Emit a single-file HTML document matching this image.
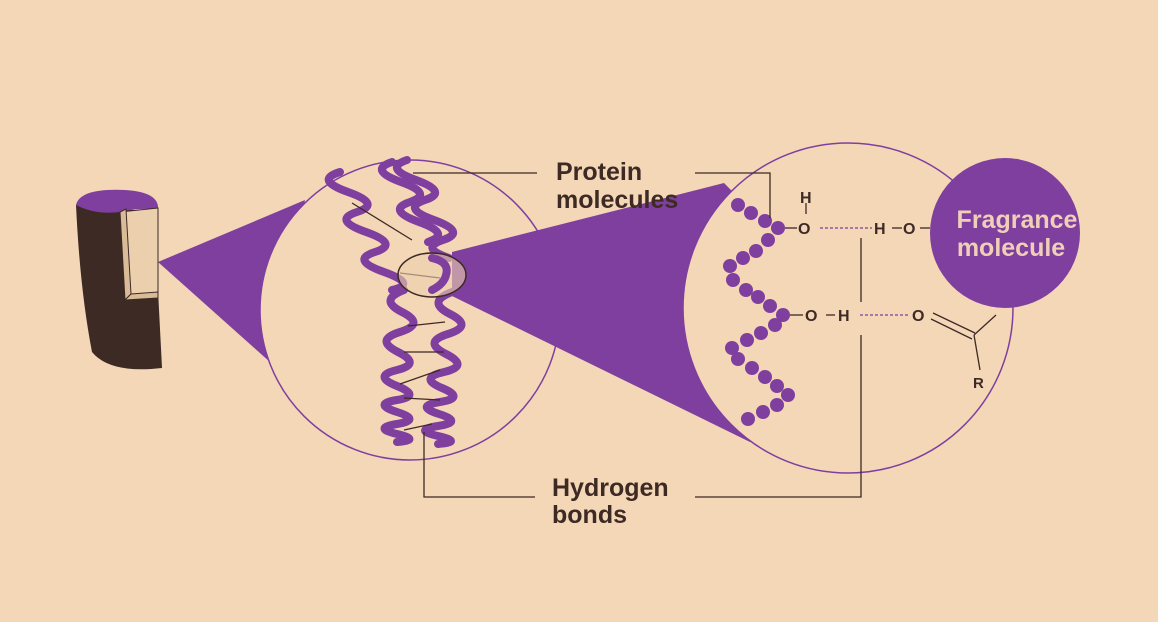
<!DOCTYPE html>
<html><head><meta charset="utf-8"><style>
html,body{margin:0;padding:0;background:#f3d7b7;}
svg{display:block}
text{font-family:"Liberation Sans",sans-serif;font-weight:bold;fill:#3d2a24}
</style></head><body>
<svg width="1158" height="622" viewBox="0 0 1158 622" xmlns="http://www.w3.org/2000/svg">
<rect width="1158" height="622" fill="#f3d7b7"/>
<!-- left cone -->
<polygon points="158,262 305,200 270,362" fill="#7f3f9f"/>
<!-- circle 1 -->
<circle cx="410" cy="310" r="150" fill="#f3d7b7" stroke="#7f3f9f" stroke-width="1.5"/>
<!-- right cone -->
<polygon points="452,252 724,183 848,308 750,442 452,296" fill="#7f3f9f"/>
<!-- circle 2 -->
<circle cx="848" cy="308" r="165" fill="#f3d7b7" stroke="#7f3f9f" stroke-width="1.5"/>
<!-- hair -->
<path d="M76,205 Q80,290 92,352 Q110,374 162,368 L158,290 L158,212 Z" fill="#3d2a24"/>
<path d="M76,205 Q80,188 125,190 Q160,192 158,210 Q140,207 120,212 Q95,215 76,205 Z" fill="#7f3f9f"/>
<polygon points="120,212 158,208 158,292 125,300" fill="#ecd0ae" stroke="#3d2a24" stroke-width="1"/>
<polygon points="120,212 126,209 131,294 125,300" fill="#d9bb98" stroke="#3d2a24" stroke-width="1"/>
<polygon points="125,300 131,294 158,292 158,298" fill="#d9bb98" stroke="#3d2a24" stroke-width="1"/>
<!-- strands -->
<g fill="none" stroke="#7f3f9f" stroke-width="8" stroke-linecap="round">
<path d="M340,172 q-26,8 8,20 t9,20 t9,20 t9,20 t9,20 t8,18"/>
<path d="M392,162 q-24,8 9,20 t9,20 t9,20 t9,20"/>
<path d="M407,160 q-24,8 9,20 t9,20 t9,20 t9,20 t6,18"/>
<path d="M404,290 q-26,10 -2,22 t-2,20 t-2,20 t-1,18 t0,16 t0,14 t0,12 t0,12 t0,10 t0,8"/>
<path d="M452,292 q-26,10 -2,22 t-2,20 t-2,20 t-2,18 t-2,16 t-2,14 t-1,12 t-1,12 t0,10 t0,8"/>
</g>
<g stroke="#3d2a24" stroke-width="1.3" fill="none">
<line x1="352" y1="203" x2="412" y2="240"/>
<line x1="400" y1="273" x2="440" y2="278"/>
<line x1="408" y1="326" x2="445" y2="322"/>
<line x1="404" y1="352" x2="444" y2="352"/>
<line x1="400" y1="384" x2="440" y2="370"/>
<line x1="404" y1="398" x2="440" y2="400"/>
<line x1="404" y1="430" x2="432" y2="424"/>
</g>
<ellipse cx="432" cy="275" rx="34" ry="22" fill="#ecd0ae" fill-opacity="0.6" stroke="#3d2a24" stroke-width="1.5"/>
<path d="M432,258 Q450,262 446,275 Q444,284 432,290" fill="none" stroke="#7f3f9f" stroke-width="8" stroke-linecap="round"/>
<!-- dots -->
<g fill="#7f3f9f">
<circle cx="738" cy="205" r="7"/><circle cx="751" cy="213" r="7"/><circle cx="765" cy="221" r="7"/><circle cx="778" cy="228" r="7"/>
<circle cx="768" cy="240" r="7"/><circle cx="756" cy="251" r="7"/><circle cx="743" cy="258" r="7"/><circle cx="730" cy="266" r="7"/>
<circle cx="733" cy="280" r="7"/><circle cx="746" cy="290" r="7"/><circle cx="758" cy="297" r="7"/><circle cx="770" cy="306" r="7"/><circle cx="783" cy="315" r="7"/>
<circle cx="775" cy="325" r="7"/><circle cx="761" cy="333" r="7"/><circle cx="747" cy="340" r="7"/><circle cx="732" cy="348" r="7"/>
<circle cx="738" cy="359" r="7"/><circle cx="752" cy="368" r="7"/><circle cx="765" cy="377" r="7"/><circle cx="777" cy="386" r="7"/><circle cx="788" cy="395" r="7"/>
<circle cx="777" cy="405" r="7"/><circle cx="763" cy="412" r="7"/><circle cx="748" cy="419" r="7"/>
</g>
<!-- fragrance circle -->
<circle cx="1005" cy="233" r="75" fill="#7f3f9f"/>
<text x="1017" y="228" text-anchor="middle" font-size="25" style="fill:#f0cfb8">Fragrance</text>
<text x="1011" y="256" text-anchor="middle" font-size="25" style="fill:#f0cfb8">molecule</text>
<!-- chemistry -->
<g stroke="#3d2a24" stroke-width="1.3" fill="none">
<line x1="785" y1="228" x2="797" y2="228"/>
<line x1="806" y1="203" x2="806" y2="214"/>
<line x1="820" y1="228" x2="872" y2="228" stroke="#7f3f9f" stroke-dasharray="3,2"/>
<line x1="892" y1="228" x2="902" y2="228"/>
<line x1="920" y1="228" x2="930" y2="228"/>
<line x1="790" y1="315" x2="803" y2="315"/>
<line x1="826" y1="315" x2="835" y2="315"/>
<line x1="860" y1="315" x2="910" y2="315" stroke="#7f3f9f" stroke-dasharray="3,2"/>
<line x1="933" y1="313" x2="975" y2="333"/>
<line x1="931" y1="319" x2="972" y2="339"/>
<line x1="974" y1="335" x2="996" y2="315"/>
<line x1="974" y1="335" x2="980" y2="370"/>
<!-- leaders -->
<polyline points="413,173 537,173"/>
<polyline points="695,173 770,173 770,218"/>
<polyline points="424,432 424,497 535,497"/>
<polyline points="695,497 861,497 861,335"/>
<line x1="861" y1="238" x2="861" y2="302"/>
</g>
<g font-size="16">
<text x="800" y="203">H</text>
<text x="798" y="234">O</text>
<text x="874" y="234">H</text>
<text x="903" y="234">O</text>
<text x="805" y="321">O</text>
<text x="838" y="321">H</text>
<text x="912" y="321">O</text>
<text x="973" y="388" font-size="15">R</text>
</g>
<g font-size="25">
<text x="556" y="180">Protein</text>
<text x="556" y="208">molecules</text>
<text x="552" y="496">Hydrogen</text>
<text x="552" y="523">bonds</text>
</g>
</svg>
</body></html>
